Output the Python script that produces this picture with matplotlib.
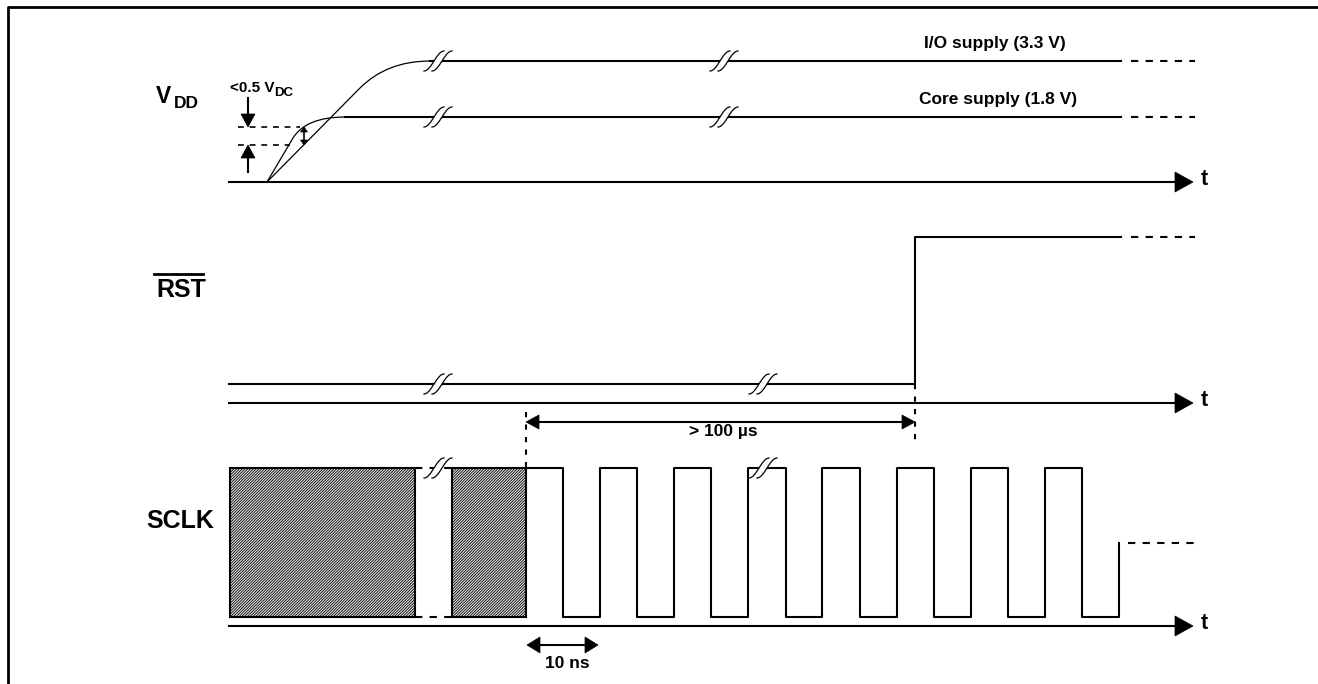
import numpy as np
import matplotlib.pyplot as plt
from matplotlib.path import Path
from matplotlib.patches import PathPatch, Polygon, Rectangle

plt.rcParams['font.family'] = ['Liberation Sans', 'DejaVu Sans']
plt.rcParams['hatch.linewidth'] = 0.6

# layout in pixel units (x to the right, y downwards)
x_start = 229
x_solid_end = 1121
x_dash_start = 1131
x_dash_end = 1195
axis_tip = 1193

vdd_axis = 182
rst_axis = 403
sclk_axis = 626

# VDD ramps
ramp_start = 267
io_level = 61
core_level = 117
io_ramp_x = [267, 360, 387, 430]
io_ramp_y = [182, 88, 61, 61]
core_ramp_x = [267, 293, 306, 345]
core_ramp_y = [182, 138, 117, 117]
thr_hi, thr_lo = 127, 145
thr_end = [300, 290]

# RST
rst_low = 384
rst_high = 237
rst_rise = 915

# SCLK
sclk_high = 468
sclk_low = 617
sclk_idle = 543
bursts = [(230, 415), (452, 526)]
clk_rise = [526, 600, 674, 748, 822, 897, 971, 1045]
clk_fall = [563, 637, 711, 786, 860, 934, 1008, 1082]
clk_end = 1119

breaks_vdd = [438, 724]
breaks_rst = [438, 763]
breaks_sclk = [438, 763]

LW = 1.5

fig = plt.figure(figsize=(13.18, 6.84), dpi=100)
ax = fig.add_axes([0, 0, 1, 1])
ax.set_xlim(0, 1318)
ax.set_ylim(684, 0)
ax.axis('off')


def head(tip, direction, length, half):
    tip = np.array(tip, float)
    d = np.array(direction, float)
    d /= np.hypot(*d)
    n = np.array([-d[1], d[0]])
    base = tip - d * length
    ax.add_patch(Polygon([tip, base + n * half, base - n * half], closed=True,
                         fc='black', ec='black', lw=0.5, zorder=5))


def time_axis(y):
    ax.plot([x_start, axis_tip - 15], [y, y], 'k', lw=LW)
    head((axis_tip, y), (1, 0), 18, 10)
    ax.text(1201, y + 3, 't', fontsize=15.5, fontweight='bold', va='baseline')


def brk(xc, yc):
    t = np.linspace(0, 1, 40)
    ys = yc + 10 - 20 * (0.5 - 0.5 * np.cos(np.pi * t))
    x1 = xc - 14 + 20 * t
    x2 = x1 + 8
    poly = np.column_stack([np.r_[x1, x2[::-1]], np.r_[ys, ys[::-1]]])
    ax.add_patch(Polygon(poly, fc='white', ec='none', zorder=3))
    ax.plot(x1, ys, 'k', lw=0.9, zorder=4)
    ax.plot(x2, ys, 'k', lw=0.9, zorder=4)


def extend(y):
    ax.plot([x_dash_start, x_dash_end], [y, y], 'k', lw=LW, ls=(0, (3.5, 3.5)))


# frame
ax.plot([8, 8, 1318], [684, 7, 7], 'k', lw=2)

# ---- VDD
for rx, ry, lvl in [(io_ramp_x, io_ramp_y, io_level), (core_ramp_x, core_ramp_y, core_level)]:
    verts = list(zip(rx, ry)) + [(x_solid_end, lvl)]
    codes = [Path.MOVETO, Path.LINETO, Path.CURVE3, Path.CURVE3, Path.LINETO]
    ax.add_patch(PathPatch(Path(verts, codes), fill=False, ec='black', lw=0.9))
    ax.plot([rx[-1], x_solid_end], [lvl, lvl], 'k', lw=LW)
    extend(lvl)
    for b in breaks_vdd:
        brk(b, lvl)
time_axis(vdd_axis)

for y, xe in zip([thr_hi, thr_lo], thr_end):
    ax.plot([238, xe], [y, y], 'k', lw=1.2, ls=(0, (3.5, 3.5)))
ax.plot([248, 248], [98, 116], 'k', lw=1.5)
head((248, thr_hi), (0, 1), 13, 7)
ax.plot([248, 248], [172, 156], 'k', lw=1.5)
head((248, thr_lo), (0, -1), 13, 7)
ax.plot([304, 304], [130, 142], 'k', lw=1.2)
head((304, thr_hi), (0, -1), 5, 3.5)
head((304, thr_lo), (0, 1), 5, 3.5)

ax.text(995, 48, 'I/O supply (3.3 V)', fontsize=12.5, fontweight='bold', ha='center', va='baseline')
ax.text(998, 104, 'Core supply (1.8 V)', fontsize=12.5, fontweight='bold', ha='center', va='baseline')
ax.text(230, 92, '<0.5 V', fontsize=11, fontweight='bold', va='baseline')
ax.text(274, 96, 'DC', fontsize=9.5, fontweight='bold', va='baseline')
ax.text(156, 103, 'V', fontsize=16.5, fontweight='bold', va='baseline')
ax.text(174, 108, 'DD', fontsize=12.5, fontweight='bold', va='baseline')

# ---- RST
ax.plot([x_start, rst_rise, rst_rise, x_solid_end], [rst_low, rst_low, rst_high, rst_high], 'k', lw=LW)
extend(rst_high)
for b in breaks_rst:
    brk(b, rst_low)
time_axis(rst_axis)
ax.text(156, 297, 'RST', fontsize=18, fontweight='bold', va='baseline')
ax.plot([154, 203], [274, 274], 'k', lw=2)

# >100 us
ax.plot([clk_rise[0], clk_rise[0]], [412, sclk_high], 'k', lw=1.5, ls=(0, (2.5, 3.5)))
ax.plot([rst_rise, rst_rise], [rst_low, 442], 'k', lw=1.5, ls=(0, (2.5, 3.5)))
ax.plot([clk_rise[0] + 10, rst_rise - 10], [422, 422], 'k', lw=LW)
head((clk_rise[0], 422), (-1, 0), 13, 7)
head((rst_rise, 422), (1, 0), 13, 7)
ax.text(723, 424, '> 100 µs', fontsize=12.5, fontweight='bold', ha='center', va='top')

# ---- SCLK
for x0, x1 in bursts:
    ax.add_patch(Rectangle((x0, sclk_high), x1 - x0, sclk_low - sclk_high, fc='#e4e4e4',
                           ec='black', lw=LW, hatch='////////////'))
for y in [sclk_high, sclk_low]:
    ax.plot([bursts[0][1], bursts[1][0]], [y, y], 'k', lw=LW, ls=(0, (3.5, 3.5)))

wx, wy = [clk_rise[0]], [sclk_high]
for i, f in enumerate(clk_fall):
    wx += [f, f]
    wy += [sclk_high, sclk_low]
    if i + 1 < len(clk_rise):
        wx += [clk_rise[i + 1], clk_rise[i + 1]]
        wy += [sclk_low, sclk_high]
wx += [clk_end, clk_end]
wy += [sclk_low, sclk_idle]
ax.plot(wx, wy, 'k', lw=LW)
ax.plot([1128, x_dash_end], [sclk_idle, sclk_idle], 'k', lw=LW, ls=(0, (3.5, 3.5)))
for b in breaks_sclk:
    brk(b, sclk_high)
time_axis(sclk_axis)
ax.text(146, 528, 'SCLK', fontsize=18, fontweight='bold', va='baseline')

# 10 ns
ax.plot([537, 588], [645, 645], 'k', lw=LW)
head((527, 645), (-1, 0), 13, 8)
head((598, 645), (1, 0), 13, 8)
ax.text(567, 656, '10 ns', fontsize=12.5, fontweight='bold', ha='center', va='top')

fig.savefig('out.png', dpi=100)
